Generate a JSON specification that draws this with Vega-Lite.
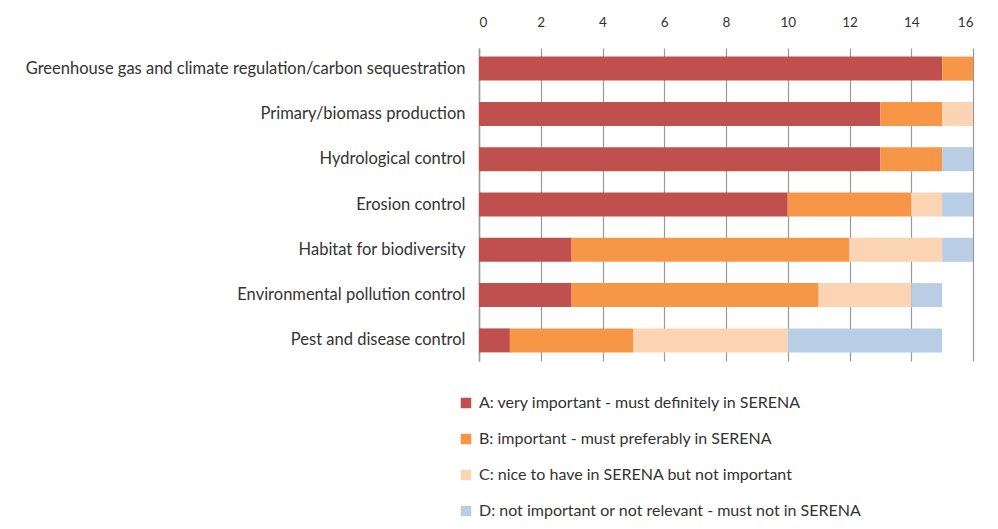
{
  "$schema": "https://vega.github.io/schema/vega-lite/v6.json",
  "autosize": {"type": "none"},
  "width": 494,
  "height": 313,
  "padding": {"left": 479, "top": 48, "right": 25, "bottom": 168},
  "background": "white",
  "data": {
    "values": [
      {"service": "Greenhouse gas and climate regulation/carbon sequestration", "cat": "A: very important - must definitely in SERENA", "n": 15},
      {"service": "Greenhouse gas and climate regulation/carbon sequestration", "cat": "B: important - must preferably in SERENA", "n": 1},
      {"service": "Primary/biomass production", "cat": "A: very important - must definitely in SERENA", "n": 13},
      {"service": "Primary/biomass production", "cat": "B: important - must preferably in SERENA", "n": 2},
      {"service": "Primary/biomass production", "cat": "C: nice to have in SERENA but not important", "n": 1},
      {"service": "Hydrological control", "cat": "A: very important - must definitely in SERENA", "n": 13},
      {"service": "Hydrological control", "cat": "B: important - must preferably in SERENA", "n": 2},
      {"service": "Hydrological control", "cat": "D: not important or not relevant - must not in SERENA", "n": 1},
      {"service": "Erosion control", "cat": "A: very important - must definitely in SERENA", "n": 10},
      {"service": "Erosion control", "cat": "B: important - must preferably in SERENA", "n": 4},
      {"service": "Erosion control", "cat": "C: nice to have in SERENA but not important", "n": 1},
      {"service": "Erosion control", "cat": "D: not important or not relevant - must not in SERENA", "n": 1},
      {"service": "Habitat for biodiversity", "cat": "A: very important - must definitely in SERENA", "n": 3},
      {"service": "Habitat for biodiversity", "cat": "B: important - must preferably in SERENA", "n": 9},
      {"service": "Habitat for biodiversity", "cat": "C: nice to have in SERENA but not important", "n": 3},
      {"service": "Habitat for biodiversity", "cat": "D: not important or not relevant - must not in SERENA", "n": 1},
      {"service": "Environmental pollution control", "cat": "A: very important - must definitely in SERENA", "n": 3},
      {"service": "Environmental pollution control", "cat": "B: important - must preferably in SERENA", "n": 8},
      {"service": "Environmental pollution control", "cat": "C: nice to have in SERENA but not important", "n": 3},
      {"service": "Environmental pollution control", "cat": "D: not important or not relevant - must not in SERENA", "n": 1},
      {"service": "Pest and disease control", "cat": "A: very important - must definitely in SERENA", "n": 1},
      {"service": "Pest and disease control", "cat": "B: important - must preferably in SERENA", "n": 4},
      {"service": "Pest and disease control", "cat": "C: nice to have in SERENA but not important", "n": 5},
      {"service": "Pest and disease control", "cat": "D: not important or not relevant - must not in SERENA", "n": 5}
    ]
  },
  "mark": {"type": "bar"},
  "encoding": {
    "y": {
      "field": "service",
      "type": "nominal",
      "sort": null,
      "title": null,
      "scale": {"paddingInner": 0.47, "paddingOuter": 0.19},
      "axis": {
        "labelFont": "Lato",
        "labelFontSize": 16.5,
        "labelColor": "#333333",
        "labelPadding": 14,
        "labelLimit": 600,
        "ticks": false,
        "domain": true,
        "domainColor": "#999999",
        "domainWidth": 1.5
      }
    },
    "x": {
      "field": "n",
      "type": "quantitative",
      "stack": "zero",
      "title": null,
      "scale": {"domain": [0, 16], "nice": false},
      "axis": {
        "orient": "top",
        "values": [0, 2, 4, 6, 8, 10, 12, 14, 16],
        "labelFont": "Lato",
        "labelFontSize": 13.5,
        "labelColor": "#333333",
        "labelPadding": 19,
        "ticks": false,
        "domain": false,
        "grid": true,
        "gridColor": "#999999",
        "gridWidth": 1.2
      }
    },
    "color": {
      "field": "cat",
      "type": "nominal",
      "title": null,
      "scale": {
        "domain": [
          "A: very important - must definitely in SERENA",
          "B: important - must preferably in SERENA",
          "C: nice to have in SERENA but not important",
          "D: not important or not relevant - must not in SERENA"
        ],
        "range": ["#C0504D", "#F79646", "#FBD4B4", "#B9CDE5"]
      },
      "legend": {
        "orient": "none",
        "legendX": -21,
        "legendY": 347,
        "direction": "vertical",
        "symbolType": "square",
        "symbolSize": 110,
        "symbolStrokeWidth": 0,
        "labelFont": "Lato",
        "labelFontSize": 16,
        "labelColor": "#333333",
        "labelLimit": 600,
        "labelOffset": 5,
        "rowPadding": 20
      }
    },
    "order": {"field": "cat", "sort": "ascending"}
  },
  "config": {
    "view": {"stroke": null}
  }
}
